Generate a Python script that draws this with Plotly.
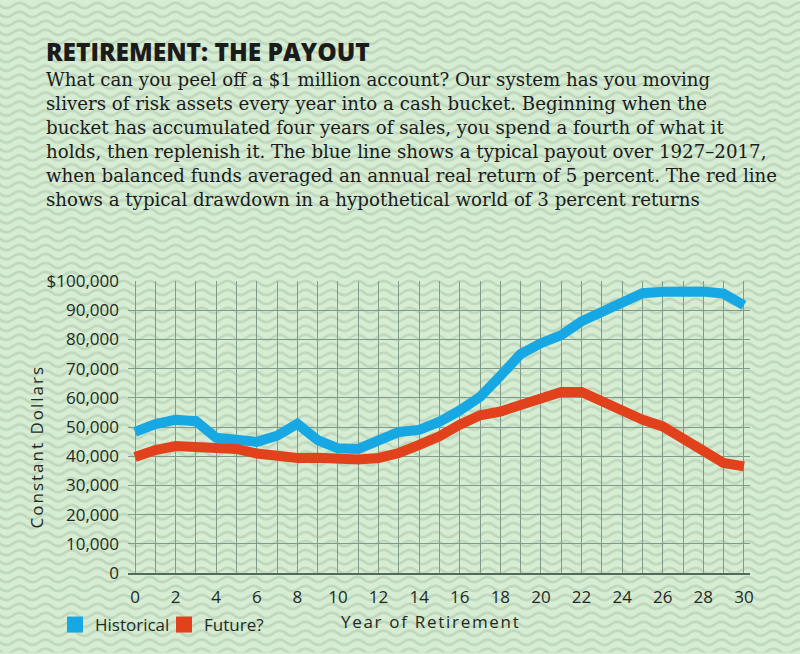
import base64
import plotly.graph_objects as go

# ---- data ----
years = list(range(31))
historical = [48300, 51000, 52500, 52000, 46300, 45800, 44900, 47000, 51100, 45500,
              42700, 42500, 45300, 48300, 49000, 51800, 55700, 60300, 67500, 75000,
              78700, 81500, 86200, 89300, 93000, 95800, 96300, 96600, 96400, 95700, 91700]
future = [39700, 42100, 43500, 43200, 43200, 42500, 40900, 39800, 39400, 39500,
          39100, 38900, 39400, 41100, 43900, 46800, 50800, 54000, 55300, 57600,
          59900, 62000, 62000, 58800, 55200, 52500, 50200, 46300, 42200, 37700, 36500]
y_tickvals = [0, 10000, 20000, 30000, 40000, 50000, 60000, 70000, 80000, 90000, 100000]
y_ticktext = ["0", "10,000", "20,000", "30,000", "40,000", "50,000", "60,000",
              "70,000", "80,000", "90,000", "$100,000"]
series_names = ["Historical", "Future?"]
series_colors = ["#17a8e3", "#e2421b"]

title = "RETIREMENT: THE PAYOUT"
sub_lines = [
    "What can you peel off a $1 million account? Our system has you moving",
    "slivers of risk assets every year into a cash bucket. Beginning when the",
    "bucket has accumulated four years of sales, you spend a fourth of what it",
    "holds, then replenish it. The blue line shows a typical payout over 1927–2017,",
    "when balanced funds averaged an annual real return of 5 percent. The red line",
    "shows a typical drawdown in a hypothetical world of 3 percent returns",
]

# ---- geometry ----
W, H = 800, 654
L, R, T, B = 128, 50, 281, 80
PW, PH = W - L - R, H - T - B


def px(x):
    return (x - L) / PW


def py(y):
    return (H - B - y) / PH


# ---- wavy background as svg ----
P, S, A = 26, 9, 2.6
m = S / 2
svg = (
    f'<svg xmlns="http://www.w3.org/2000/svg" width="{W}" height="{H}">'
    f'<defs><pattern id="w" width="{P}" height="{S}" patternUnits="userSpaceOnUse">'
    f'<path d="M{-P/2},{m} Q{-P/4},{m-2*A} 0,{m} T{P/2},{m} T{P},{m} T{1.5*P},{m}" '
    f'fill="none" stroke="#bed7bd" stroke-width="2.8"/></pattern></defs>'
    f'<rect width="{W}" height="{H}" fill="#d6ecd3"/>'
    f'<rect width="{W}" height="{H}" fill="url(#w)"/></svg>'
)
src = "data:image/svg+xml;base64," + base64.b64encode(svg.encode()).decode()

fig = go.Figure()
for name, vals, col in zip(series_names, [historical, future], series_colors):
    fig.add_trace(go.Scatter(x=years, y=vals, mode="lines", name=name,
                             line=dict(color=col, width=10), showlegend=False,
                             hoverinfo="skip"))
for name, col in zip(series_names, series_colors):
    fig.add_trace(go.Scatter(x=[None], y=[None], mode="markers", name=name,
                             marker=dict(symbol="square", size=18, color=col)))

grid_col = "#7f9b8a"
tick_font = dict(family="Open Sans", size=17, color="#1f2a24")

fig.update_layout(
    width=W, height=H,
    margin=dict(l=L, r=R, t=T, b=B),
    paper_bgcolor="#d6ecd3",
    plot_bgcolor="rgba(0,0,0,0)",
    images=[dict(source=src, xref="paper", yref="paper", x=px(0), y=py(0),
                 sizex=W / PW, sizey=H / PH, xanchor="left", yanchor="top",
                 sizing="stretch", layer="below")],
    xaxis=dict(range=[-0.345, 30.3], tickvals=list(range(0, 31, 2)),
               showgrid=False, zeroline=False, showline=True,
               linecolor="#4f6b5b", linewidth=2, ticks="",
               tickfont=tick_font, ticklabelstandoff=8,
               minor=dict(tickvals=years, showgrid=True, gridcolor=grid_col,
                          gridwidth=1)),
    yaxis=dict(range=[0, 100000], tickvals=y_tickvals, ticktext=y_ticktext,
               showgrid=True, gridcolor=grid_col, gridwidth=1, zeroline=False,
               ticks="", tickfont=tick_font, ticklabelstandoff=8),
    legend=dict(orientation="h", x=px(55), y=py(625), xanchor="left",
                yanchor="middle", font=dict(family="Open Sans", size=17,
                                            color="#1f2a24"),
                bgcolor="rgba(0,0,0,0)", itemwidth=30,
                entrywidth=64, entrywidthmode="pixels"),
    showlegend=True,
)

ann = []
ann.append(dict(text=title, x=px(44), y=py(51), xref="paper", yref="paper",
                xanchor="left", yanchor="middle", showarrow=False,
                font=dict(family="Open Sans", size=24.5, color="#1b1b1b",
                          weight=800)))
for i, line in enumerate(sub_lines):
    ann.append(dict(text=line, x=px(44), y=py(79 + i * 24), xref="paper",
                    yref="paper", xanchor="left", yanchor="middle",
                    showarrow=False,
                    font=dict(family="DejaVu Serif", size=18.2, color="#1b1b1b")))
ann.append(dict(text='<span style="letter-spacing:2px">Constant Dollars</span>',
                x=px(36), y=py(447), xref="paper",
                yref="paper", xanchor="center", yanchor="middle",
                textangle=-90, showarrow=False,
                font=dict(family="Open Sans", size=17, color="#1f2a24")))
ann.append(dict(text='<span style="letter-spacing:1.7px">Year of Retirement</span>',
                x=px(430), y=py(623), xref="paper",
                yref="paper", xanchor="center", yanchor="middle",
                showarrow=False,
                font=dict(family="Open Sans", size=17, color="#1f2a24")))
fig.update_layout(annotations=ann)

fig.write_html("out.html", config={"displayModeBar": False},
               post_script="document.body.style.margin='0px';")
